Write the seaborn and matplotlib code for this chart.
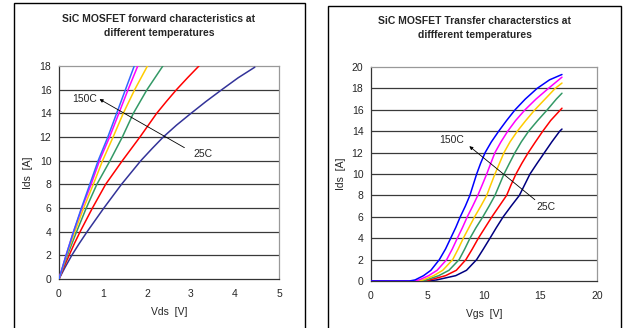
import numpy as np
import pandas as pd
import matplotlib
matplotlib.use("Agg")
import matplotlib.pyplot as plt
from matplotlib.patches import Rectangle
import seaborn as sns

# ---------------- data ----------------
temps = ["25C", "50C", "75C", "100C", "125C", "150C"]

# Forward characteristics (Vds [V], Ids [A])
fwd_ids_25 = [0, 1, 2, 3, 4, 5, 6, 7, 8, 9, 10, 11, 12, 13, 14, 15, 16, 17, 17.9]
fwd_vds_25 = [0, 0.14, 0.29, 0.46, 0.64, 0.83, 1.02, 1.22, 1.42, 1.64, 1.86, 2.11,
              2.37, 2.67, 3.00, 3.34, 3.70, 4.07, 4.45]
fwd_ids_50 = [0, 1, 2, 3, 4, 5, 6, 7, 8, 9, 10, 11, 12, 13, 14, 15, 16, 17, 18]
fwd_vds_50 = [0, 0.11, 0.23, 0.35, 0.48, 0.62, 0.76, 0.91, 1.06, 1.25, 1.44, 1.64,
              1.84, 2.03, 2.22, 2.44, 2.67, 2.92, 3.18]
fwd_ids_hot = [0, 2, 4, 6, 8, 10, 12, 14, 16, 18]
fwd_vds_75 = [0, 0.19, 0.40, 0.62, 0.86, 1.16, 1.44, 1.69, 2.00, 2.36]
fwd_vds_100 = [0, 0.17, 0.36, 0.56, 0.78, 0.99, 1.23, 1.46, 1.72, 2.01]
fwd_vds_125 = [0, 0.16, 0.33, 0.52, 0.73, 0.92, 1.15, 1.36, 1.57, 1.79]
fwd_vds_150 = [0, 0.16, 0.33, 0.51, 0.70, 0.89, 1.11, 1.31, 1.51, 1.71]

# Transfer characteristics (Vgs [V], Ids [A])
tr_vgs_25 = [0, 5.0, 5.8, 7.5, 8.45, 9.35, 9.95, 10.53, 11.1, 11.7, 12.4, 13.13, 13.6,
             14.07, 14.7, 15.35, 16.0, 16.7, 16.9]
tr_ids_25 = [0, 0, 0.1, 0.5, 1, 2, 3, 4, 5, 6, 7, 8, 9, 10, 11, 12, 13, 14, 14.2]
tr_vgs_50 = [0, 4.6, 5.2, 6.6, 7.55, 8.4, 8.97, 9.5, 10.1, 10.7, 11.35, 12.0, 12.4,
             12.83, 13.35, 13.92, 14.55, 15.2, 15.9, 16.9]
tr_ids_50 = [0, 0, 0.1, 0.5, 1, 2, 3, 4, 5, 6, 7, 8, 9, 10, 11, 12, 13, 14, 15, 16.15]
tr_vgs_75 = [0, 4.3, 4.9, 6.0, 6.9, 7.8, 8.3, 8.76, 9.3, 9.9, 10.45, 10.97, 11.37,
             11.77, 12.25, 12.74, 13.3, 13.95, 14.75, 15.6, 16.4, 16.9]
tr_ids_75 = [0, 0, 0.1, 0.5, 1, 2, 3, 4, 5, 6, 7, 8, 9, 10, 11, 12, 13, 14, 15, 16, 17, 17.55]
tr_vgs_100 = [0, 4.0, 4.6, 5.55, 6.35, 7.23, 7.72, 8.17, 8.67, 9.17, 9.72, 10.24, 10.6,
              10.97, 11.37, 11.77, 12.3, 12.95, 13.7, 14.5, 15.4, 16.3, 16.9]
tr_ids_100 = [0, 0, 0.1, 0.5, 1, 2, 3, 4, 5, 6, 7, 8, 9, 10, 11, 12, 13, 14, 15, 16, 17, 18, 18.5]
tr_vgs_125 = [0, 3.7, 4.25, 5.1, 5.85, 6.7, 7.2, 7.64, 8.1, 8.52, 9.0, 9.45, 9.85,
              10.24, 10.6, 10.97, 11.5, 12.1, 12.8, 13.63, 14.6, 15.7, 16.9]
tr_ids_125 = [0, 0, 0.1, 0.5, 1, 2, 3, 4, 5, 6, 7, 8, 9, 10, 11, 12, 13, 14, 15, 16, 17, 18, 19.05]
tr_vgs_150 = [0, 3.4, 3.9, 4.65, 5.3, 6.05, 6.6, 7.05, 7.5, 7.9, 8.35, 8.75, 9.05,
              9.35, 9.7, 10.1, 10.65, 11.3, 12.0, 12.75, 13.65, 14.7, 15.8, 16.9]
tr_ids_150 = [0, 0, 0.1, 0.5, 1, 2, 3, 4, 5, 6, 7, 8, 9, 10, 11, 12, 13, 14, 15, 16,
              17, 18, 18.8, 19.3]

x_ticks_fwd = [0, 1, 2, 3, 4, 5]
y_ticks_fwd = [0, 2, 4, 6, 8, 10, 12, 14, 16, 18]
x_ticks_tr = [0, 5, 10, 15, 20]
y_ticks_tr = [0, 2, 4, 6, 8, 10, 12, 14, 16, 18, 20]

title_fwd = "SiC MOSFET forward characteristics at\ndifferent temperatures"
title_tr = "SiC MOSFET Transfer characterstics at\ndiffferent temperatures"

# ---------------- build long tables ----------------
fwd_x = [fwd_vds_25, fwd_vds_50, fwd_vds_75, fwd_vds_100, fwd_vds_125, fwd_vds_150]
fwd_y = [fwd_ids_25, fwd_ids_50, fwd_ids_hot, fwd_ids_hot, fwd_ids_hot, fwd_ids_hot]
tr_x = [tr_vgs_25, tr_vgs_50, tr_vgs_75, tr_vgs_100, tr_vgs_125, tr_vgs_150]
tr_y = [tr_ids_25, tr_ids_50, tr_ids_75, tr_ids_100, tr_ids_125, tr_ids_150]

def long(xs, ys):
    rows = []
    for t, xv, yv in zip(temps, xs, ys):
        for i, (a, b) in enumerate(zip(xv, yv)):
            rows.append((t, i, a, b))
    return pd.DataFrame(rows, columns=["temp", "idx", "x", "y"])

df_fwd = long(fwd_x, fwd_y)
df_tr = long(tr_x, tr_y)

pal_fwd = {"25C": "#333399", "50C": "#FF0000", "75C": "#339966",
           "100C": "#FFCC00", "125C": "#FF00FF", "150C": "#3366FF"}
pal_tr = {"25C": "#000080", "50C": "#FF0000", "75C": "#339966",
          "100C": "#FFCC00", "125C": "#FF00FF", "150C": "#0000FF"}

# ---------------- style ----------------
sns.set_style("white")
plt.rcParams["font.family"] = ["Liberation Sans", "DejaVu Sans"]
FS = 7.5
plt.rcParams["font.size"] = FS

W, H = 636, 328
fig = plt.figure(figsize=(W / 100, H / 100), dpi=100)

def px_axes(x0, x1, ytop, ybot):
    return fig.add_axes([x0 / W, (H - ybot) / H, (x1 - x0) / W, (ybot - ytop) / H])

ax1 = px_axes(59, 279, 66, 279)
ax2 = px_axes(371, 597, 67, 281)

# outer boxes
fig.patches.append(Rectangle((14 / W, -0.05), (305 - 14) / W, 1.05 - 3 / H,
                             transform=fig.transFigure, fill=False, ec="black", lw=1.0))
fig.patches.append(Rectangle((328 / W, -0.05), (621 - 328) / W, 1.05 - 6 / H,
                             transform=fig.transFigure, fill=False, ec="black", lw=1.0))

def style_axes(ax, xt, yt, xlab, ylab, xlc, ylc):
    ax.set_xticks(xt)
    ax.set_yticks(yt)
    ax.set_xlim(xt[0], xt[-1])
    ax.set_ylim(yt[0], yt[-1])
    ax.grid(False)
    for y in yt[1:-1]:
        ax.axhline(y, color="#3a3a3a", lw=0.9, zorder=1)
    for s in ["top", "right"]:
        ax.spines[s].set_color("#999999")
        ax.spines[s].set_linewidth(0.9)
    for s in ["left", "bottom"]:
        ax.spines[s].set_color("#333333")
        ax.spines[s].set_linewidth(0.9)
    ax.tick_params(axis="x", direction="out", length=3.5, width=0.8, pad=3.5, labelsize=FS, color="#333333")
    ax.tick_params(axis="y", direction="out", length=3, width=0.8, pad=2.5, labelsize=FS, color="#333333")
    ax.set_xlabel(xlab, fontsize=FS)
    ax.set_ylabel(ylab, fontsize=FS)
    ax.xaxis.set_label_coords(0.5, xlc)
    ax.yaxis.set_label_coords(ylc, 0.5)

for ax, df, pal in [(ax1, df_fwd, pal_fwd), (ax2, df_tr, pal_tr)]:
    sns.lineplot(data=df, x="x", y="y", hue="temp", hue_order=temps, palette=pal,
                 units="temp", estimator=None, sort=False, lw=1.1, legend=False, ax=ax, zorder=3)

style_axes(ax1, x_ticks_fwd, y_ticks_fwd, "Vds  [V]", "Ids  [A]", -0.13, -0.12)
style_axes(ax2, x_ticks_tr, y_ticks_tr, "Vgs  [V]", "Ids  [A]", -0.13, -0.11)

# titles
fig.text(159 / W, 1 - 26 / H, title_fwd, ha="center", va="center", fontsize=FS,
         fontweight="bold", linespacing=1.4)
fig.text(475 / W, 1 - 28 / H, title_tr, ha="center", va="center", fontsize=FS,
         fontweight="bold", linespacing=1.4)

# annotations
arrow = dict(arrowstyle="-|>", lw=0.6, color="black", mutation_scale=5, shrinkA=0, shrinkB=0)
ax1.annotate("", xy=(0.92, 15.2), xytext=(2.85, 11.1), arrowprops=arrow, zorder=5)
ax1.text(0.59, 15.2, "150C", ha="center", va="center", fontsize=FS)
ax1.text(3.27, 10.6, "25C", ha="center", va="center", fontsize=FS)
ax2.annotate("", xy=(8.7, 12.6), xytext=(14.5, 7.6), arrowprops=arrow, zorder=5)
ax2.text(7.1, 13.2, "150C", ha="center", va="center", fontsize=FS)
ax2.text(15.5, 6.9, "25C", ha="center", va="center", fontsize=FS)

fig.savefig("out.png", dpi=100)
